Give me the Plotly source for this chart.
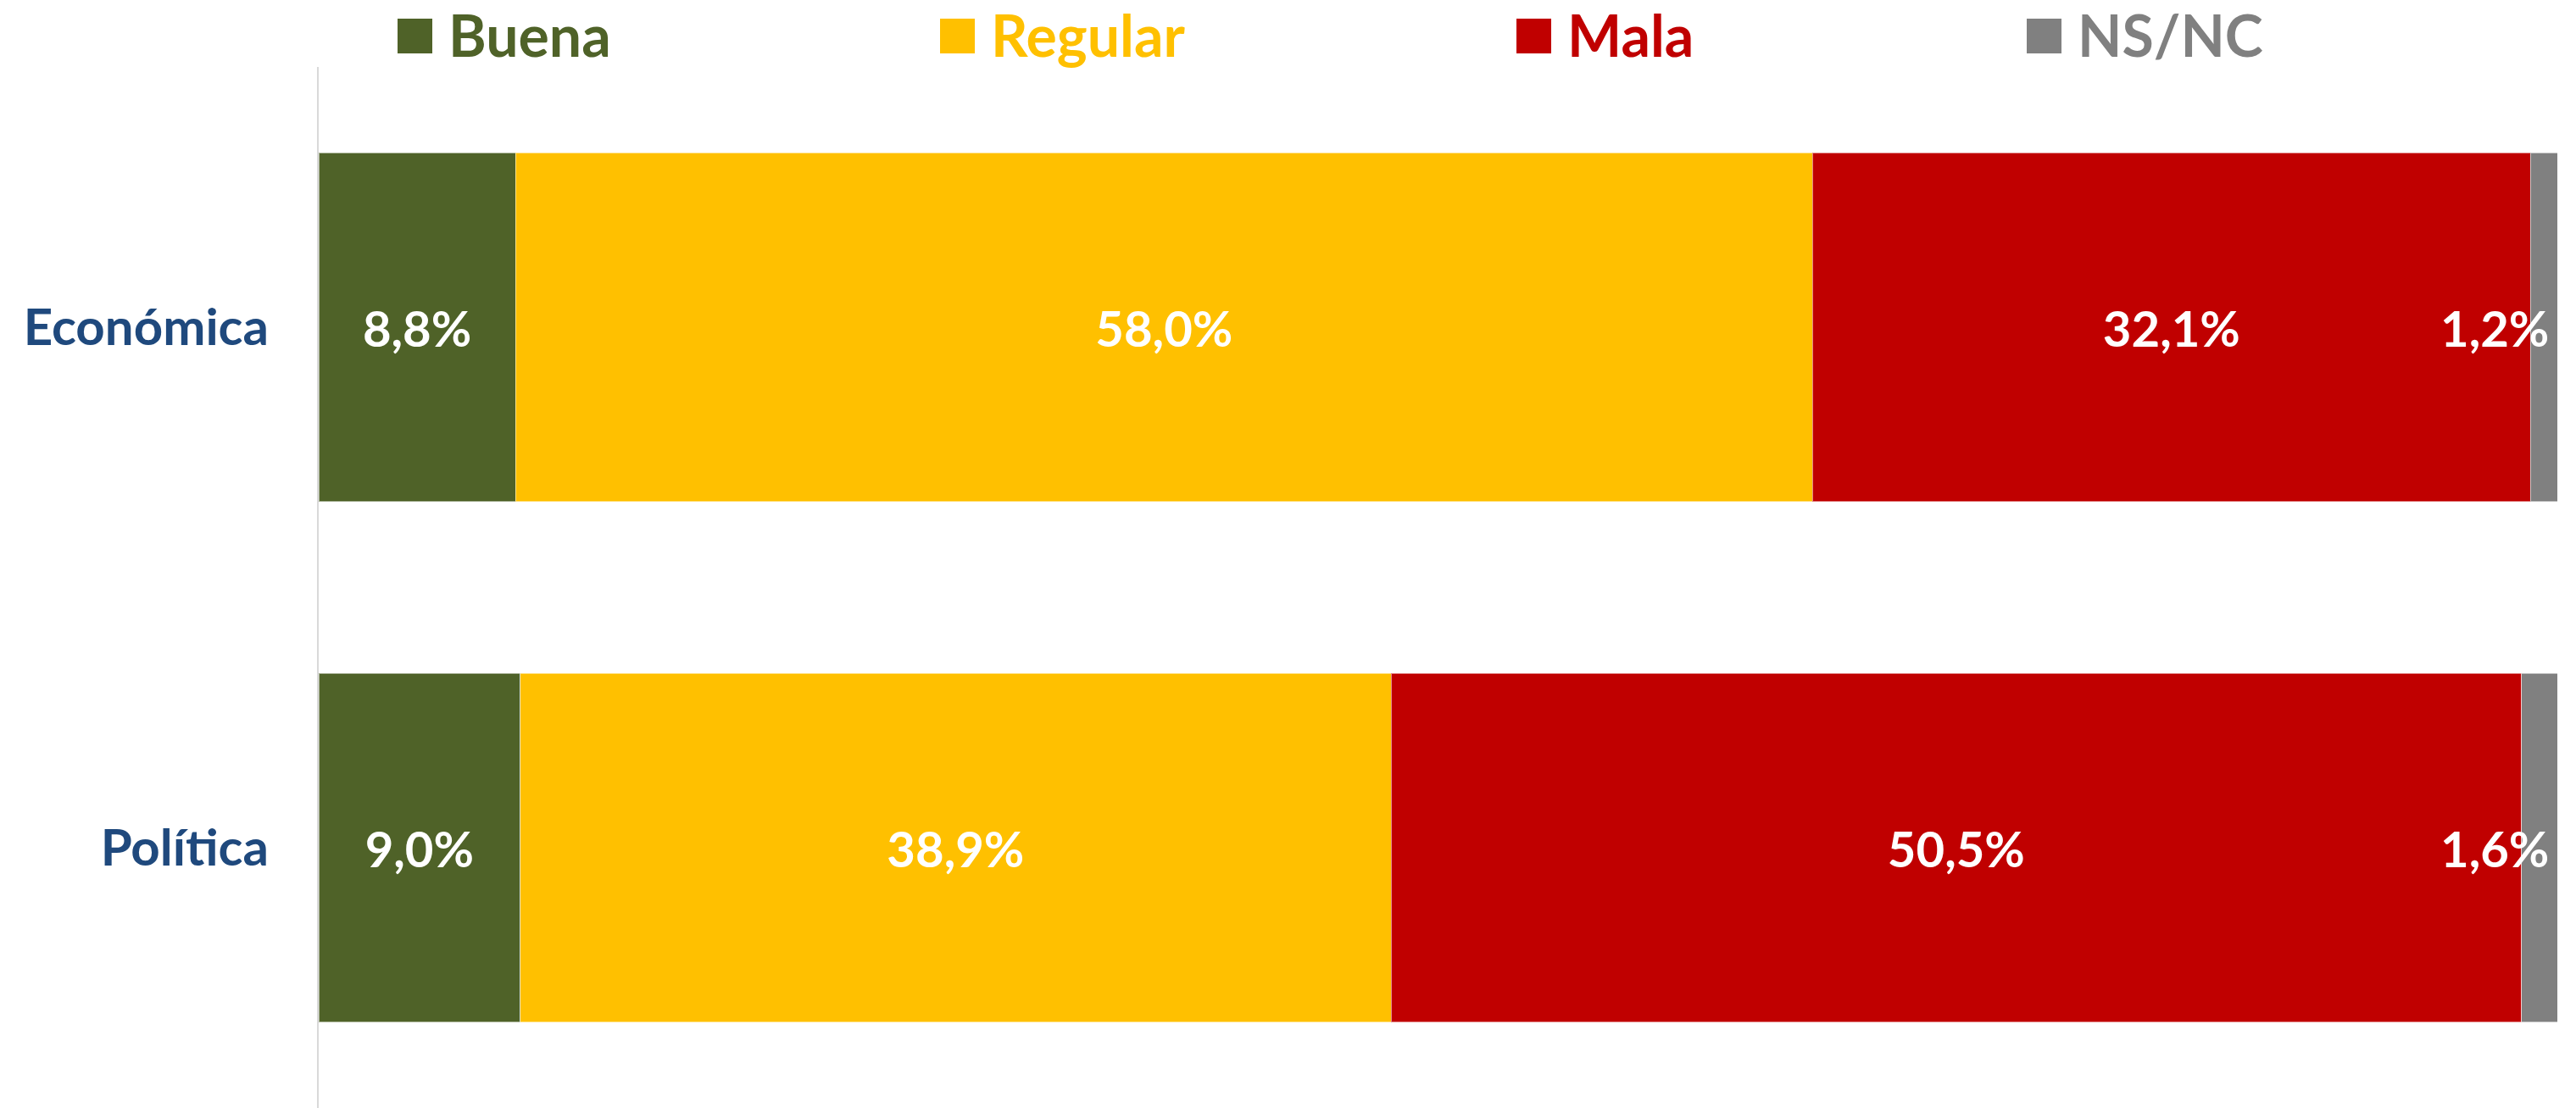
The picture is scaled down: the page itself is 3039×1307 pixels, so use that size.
import plotly.graph_objects as go

categories = ["Económica", "Política"]
series_names = ["Buena", "Regular", "Mala", "NS/NC"]
buena = [8.8, 9.0]
regular = [58.0, 38.9]
mala = [32.1, 50.5]
nsnc = [1.2, 1.6]
colors = ["#4F6228", "#FFC000", "#C00000", "#808080"]

FONT = "Lato"
OFF = 8  # default page body margin
W, H = 3039 - OFF, 1307 - OFF
L, R, T, B = 376 - OFF, 22, 79 - OFF, 0
PW, PH = W - L - R, H - T - B


def fmt(v):
    return f"{v:.1f}".replace(".", ",") + "%"


fig = go.Figure()
all_series = [buena, regular, mala, nsnc]
for name, vals, col in zip(series_names, all_series, colors):
    show_text = name != "NS/NC"
    fig.add_trace(go.Bar(
        y=categories, x=vals, name=name, orientation="h",
        marker=dict(color=col, line=dict(color="rgba(255,255,255,0.55)", width=1)),
        text=[fmt(v) for v in vals] if show_text else None,
        textposition="inside" if show_text else "none",
        insidetextanchor="middle", textangle=0,
        textfont=dict(family=FONT, size=58, color="white", weight="bold"),
        constraintext="none",
        width=0.67, showlegend=False, hoverinfo="skip",
    ))

# NS/NC labels: anchored at the end of the bar, shifted inward
for cat, v in zip(categories, nsnc):
    fig.add_annotation(
        x=100, y=cat, xref="x", yref="y", text=fmt(v), showarrow=False,
        xanchor="right", yanchor="middle", xshift=-8,
        font=dict(family=FONT, size=58, color="white", weight="bold"),
    )

# Manual legend across the top (positions in page pixels)
legend_sq_left = [469, 1109, 1789, 2391]
sq = 41
for name, col, x0 in zip(series_names, colors, legend_sq_left):
    px0 = x0 - OFF
    fig.add_shape(
        type="rect", xref="paper", yref="paper",
        x0=(px0 - L) / PW, x1=(px0 + sq - L) / PW,
        y0=(H - B - (63 - OFF)) / PH, y1=(H - B - (22 - OFF)) / PH,
        fillcolor=col, line=dict(width=0),
    )
    fig.add_annotation(
        x=(px0 + sq + 17 - L) / PW, y=(H - B - (41 - OFF)) / PH,
        xref="paper", yref="paper",
        text=name, showarrow=False, xanchor="left", yanchor="middle",
        font=dict(family=FONT, size=68, color=col, weight="bold"),
    )

fig.update_layout(
    barmode="stack", barnorm="percent",
    width=W, height=H, autosize=False,
    margin=dict(l=L, r=R, t=T, b=B, pad=0),
    paper_bgcolor="white", plot_bgcolor="white",
    showlegend=False,
    xaxis=dict(range=[0, 100], showgrid=False, zeroline=False, showline=False,
               showticklabels=False, ticks=""),
    yaxis=dict(categoryorder="array", categoryarray=categories, autorange="reversed",
               showgrid=False, zeroline=False, showline=True, linecolor="#D9D9D9",
               linewidth=2, ticks="", ticklabelstandoff=45,
               tickfont=dict(family=FONT, size=60, color="#1F497D", weight="bold")),
)

fig.write_html("out.html")
